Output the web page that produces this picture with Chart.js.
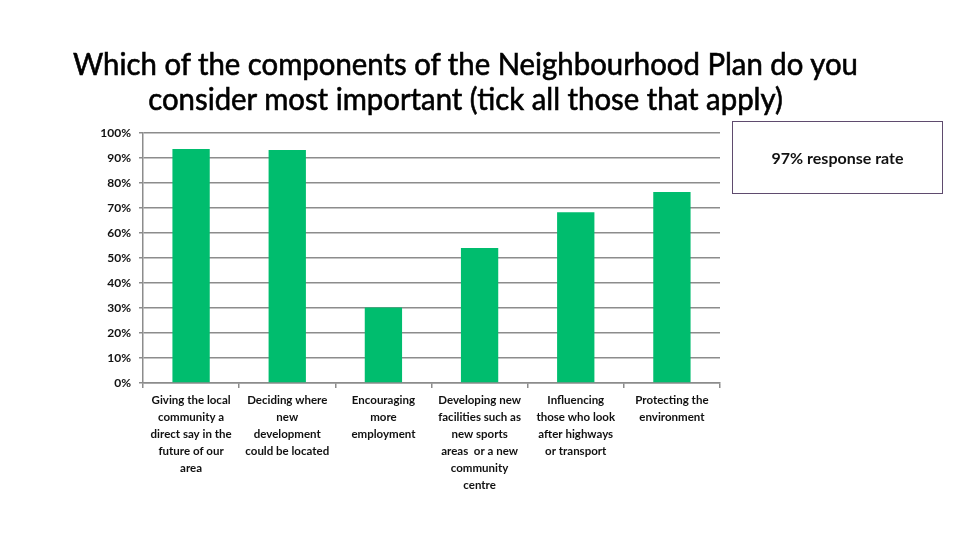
<!DOCTYPE html>
<html>
<head>
<meta charset="utf-8">
<script src="https://cdn.jsdelivr.net/npm/chart.js@4.4.0/dist/chart.umd.min.js"></script>
<style>
  html, body { margin: 0; padding: 0; background: #fff; }
  #wrap { position: relative; width: 960px; height: 540px; overflow: hidden; }
  #chartBox { position: absolute; left: 0; top: 0; width: 960px; height: 540px; }
  .title { position: absolute; left: 0; width: 930px; text-align: center; font-family: Lato, "Open Sans", sans-serif; font-size: 30px; color: #000; white-space: nowrap; line-height: 35px; -webkit-text-stroke: 0.6px #000; }
  .title span { display: inline-block; transform-origin: center; }
  #note { position: absolute; left: 732px; top: 121px; width: 211px; height: 73px; border: 1px solid #5f4b6e; box-sizing: border-box; display: flex; align-items: center; justify-content: center; font-family: Lato, "Open Sans", sans-serif; font-size: 16px; font-weight: bold; color: #111; }
</style>
</head>
<body>
<div id="wrap">
  <div id="chartBox"><canvas id="c" width="960" height="540"></canvas></div>
  <div class="title" style="top:46px"><span id="t1">Which of the components of the Neighbourhood Plan do you</span></div>
  <div class="title" style="top:81px"><span id="t2">consider most important (tick all those that apply)</span></div>
  <div id="note">97% response rate</div>
</div>
<script>
const categories = [
  ["Giving the local", "community a", "direct say in the", "future of our", "area"],
  ["Deciding where", "new", "development", "could be located"],
  ["Encouraging", "more", "employment"],
  ["Developing new", "facilities such as", "new sports", "areas  or a new", "community", "centre"],
  ["Influencing", "those who look", "after highways", "or transport"],
  ["Protecting the", "environment"]
];
const values = [93.6, 93.2, 30.2, 54.0, 68.3, 76.4];
const yTicks = [0, 10, 20, 30, 40, 50, 60, 70, 80, 90, 100];

// fit title widths
(function () {
  const t1 = document.getElementById('t1');
  const t2 = document.getElementById('t2');
  const s = 785 / t1.getBoundingClientRect().width;
  t1.style.transform = 'scaleX(' + s + ')';
  t2.style.transform = 'scaleX(' + s + ')';
})();

const ctx = document.getElementById('c');
new Chart(ctx, {
  type: 'bar',
  data: {
    labels: categories,
    datasets: [{
      data: values,
      backgroundColor: '#00bd6e',
      borderWidth: 0,
      categoryPercentage: 1,
      barPercentage: 0.388
    }]
  },
  options: {
    responsive: false,
    animation: false,
    devicePixelRatio: 1,
    layout: { padding: { left: 0, right: 240, top: 133, bottom: 0 } },
    plugins: { legend: { display: false }, tooltip: { enabled: false }, title: { display: false } },
    scales: {
      x: {
        grid: { display: true, drawOnChartArea: false, drawTicks: true, tickLength: 5, color: '#8c8c8c', lineWidth: 1.5, offset: true },
        border: { display: true, color: '#8c8c8c', width: 1.5 },
        ticks: {
          color: '#111',
          font: { family: 'Lato, "Open Sans", sans-serif', size: 11.5, weight: 'bold', lineHeight: 1.47 },
          maxRotation: 0, autoSkip: false, padding: 4
        },
        afterFit: (s) => { s.height = 540 - 383; }
      },
      y: {
        min: 0, max: 100,
        afterBuildTicks: (s) => { s.ticks = yTicks.map(v => ({ value: v })); },
        grid: { color: '#8c8c8c', lineWidth: 1.5, drawTicks: true, tickLength: 4 },
        border: { display: true, color: '#8c8c8c', width: 1.5 },
        ticks: {
          color: '#111',
          font: { family: 'Lato, "Open Sans", sans-serif', size: 12, weight: 'bold' },
          padding: 8,
          callback: (v) => v + '%'
        },
        afterFit: (s) => { s.width = 143; }
      }
    }
  }
});
</script>
</body>
</html>
